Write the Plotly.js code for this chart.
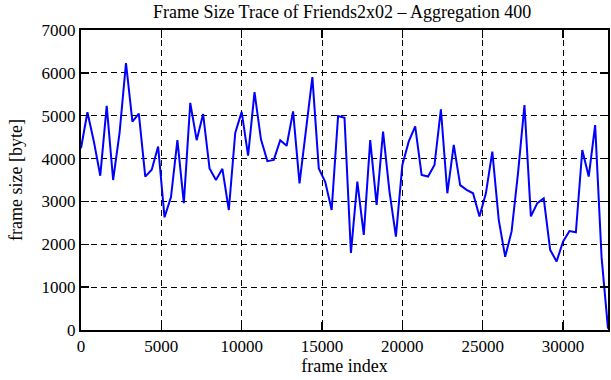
<!DOCTYPE html>
<html>
<head>
<meta charset="utf-8">
<script src="https://cdn.plot.ly/plotly-3.0.1.min.js"></script>
<style>html,body{margin:0;padding:0;background:#fff;}#chart{width:611px;height:380px;}</style>
</head>
<body>
<div id="chart"></div>
<script>
// frame index (aggregation window start, every 400 frames)
const frameIndex = [0,400,800,1200,1600,2000,2400,2800,3200,3600,4000,4400,4800,5200,5600,6000,6400,6800,7200,7600,
  8000,8400,8800,9200,9600,10000,10400,10800,11200,11600,12000,12400,12800,13200,13600,14000,14400,14800,15200,15600,
  16000,16400,16800,17200,17600,18000,18400,18800,19200,19600,20000,20400,20800,21200,21600,22000,22400,22800,23200,23600,
  24000,24400,24800,25200,25600,26000,26400,26800,27200,27600,28000,28400,28800,29200,29600,30000,30400,30800,31200,31600,
  32000,32400,32800];
// aggregated frame size [byte]
const frameSize = [4240,5080,4400,3600,5230,3500,4600,6230,4860,5050,3580,3740,4280,2630,3100,4430,2960,5300,4430,5040,
  3770,3500,3760,2800,4600,5090,4070,5550,4450,3940,3970,4430,4300,5100,3420,4630,5900,3770,3460,2800,
  4990,4950,1800,3460,2220,4430,2920,4630,3230,2180,3850,4400,4750,3620,3580,3850,5150,3190,4320,3380,
  3270,3190,2650,3190,4160,2570,1710,2300,3660,5250,2650,2960,3070,1870,1600,2060,2310,2280,4200,3580,
  4780,1700,30];
const xTicks = [0,5000,10000,15000,20000,25000,30000];
const yTicks = [0,1000,2000,3000,4000,5000,6000,7000];
const titleText = "Frame Size Trace of Friends2x02 \u2013 Aggregation 400";
const xTitle = "frame index";
const yTitle = "frame size [byte]";

const font = "Liberation Serif, Times New Roman, serif";
const axisCommon = {
  showline: true, linecolor: "#000", linewidth: 2, mirror: "ticks",
  ticks: "inside", ticklen: 8, tickwidth: 1.5, tickcolor: "#000",
  showgrid: true, gridcolor: "#000", gridwidth: 1, griddash: "6px,4px",
  zeroline: false, tickfont: {family: font, size: 17, color: "#000"}
};
const layout = {
  width: 611, height: 380,
  margin: {l: 81, r: 3, t: 30, b: 50},
  paper_bgcolor: "#fff", plot_bgcolor: "#fff",
  showlegend: false,
  title: {text: titleText, font: {family: font, size: 18, color: "#000"}, x: 0.56, xanchor: "center", y: 0.968, yanchor: "middle", yref: "container"},
  xaxis: Object.assign({}, axisCommon, {range: [0, 32800], tickvals: xTicks, ticktext: xTicks.map(String),
    title: {text: xTitle, font: {family: font, size: 18, color: "#000"}, standoff: 3}}),
  yaxis: Object.assign({}, axisCommon, {range: [0, 7000], tickvals: yTicks, ticktext: yTicks.map(String),
    title: {text: yTitle, font: {family: font, size: 18, color: "#000"}, standoff: 14}})
};
Plotly.newPlot("chart", [{
  x: frameIndex, y: frameSize, type: "scatter", mode: "lines",
  line: {color: "#0000ff", width: 2}, hoverinfo: "none"
}], layout, {staticPlot: true, displayModeBar: false});
</script>
</body>
</html>
